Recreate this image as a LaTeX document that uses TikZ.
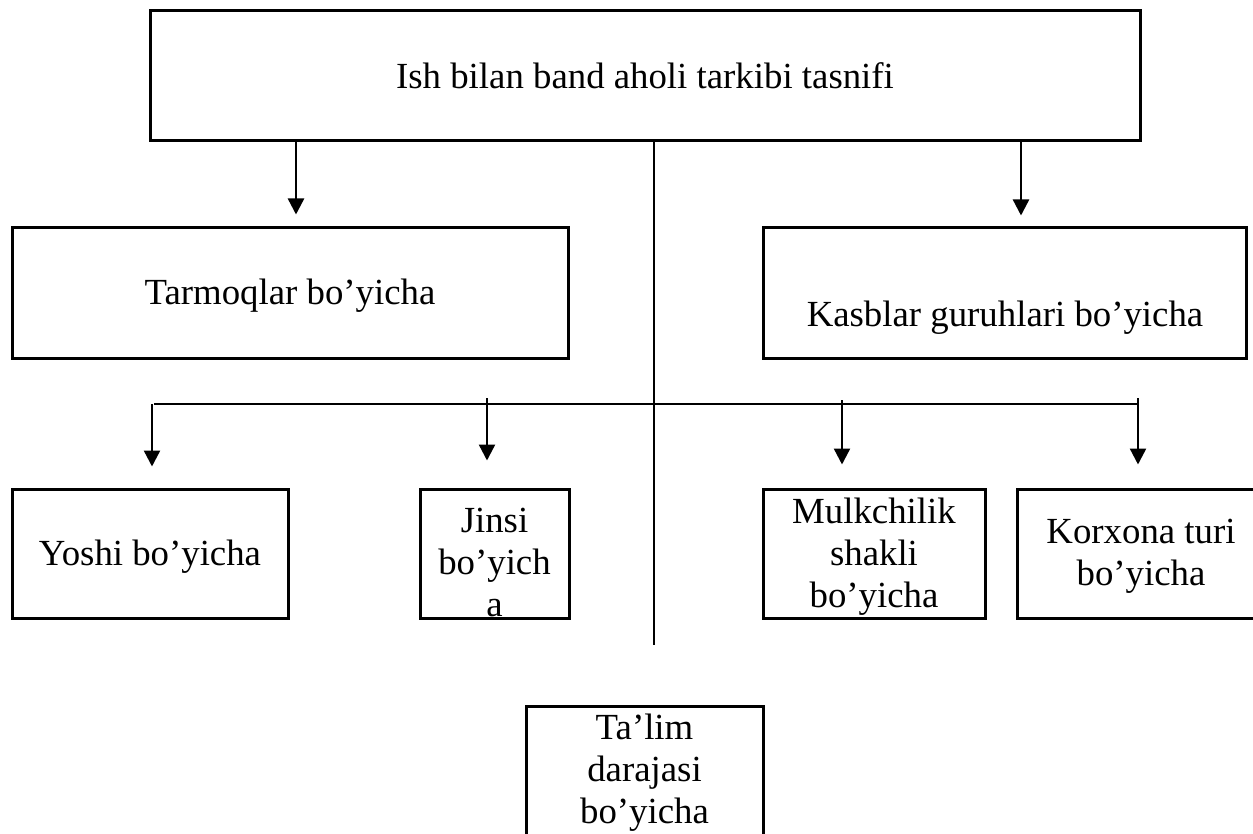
\documentclass[tikz,border=0pt]{standalone}
\usepackage{fontspec}
\setmainfont{Liberation Serif}
\usetikzlibrary{arrows.meta,calc}
\begin{document}
\begin{tikzpicture}[x=0.5pt,y=-0.5pt,
  box/.style={draw, line width=1.5pt, inner sep=0pt, minimum height=64.5pt},
  lbl/.style={font=\fontsize{18.4}{21}\selectfont, align=center, inner sep=0pt, anchor=base},
  conn/.style={line width=1.2pt},
  arr/.style={conn, -{Triangle[length=8pt,width=8pt]}},
  spine/.style={line width=0.9pt}]
\useasboundingbox (0,0) rectangle (1253,834);
\clip (0,0) rectangle (1253,834);
% boxes
\node[box, minimum width=495pt, minimum height=65pt] (top) at (645,76) {};
\node[box, minimum width=278pt, minimum height=65pt] (tar) at (290,293) {};
\node[box, minimum width=241.5pt, minimum height=65pt] (kas) at (1004.5,293) {};
\node[box, minimum width=138pt] (yosh) at (150,553.5) {};
\node[box, minimum width=74.5pt] (jins) at (494.5,553.5) {};
\node[box, minimum width=111pt] (mulk) at (874,553.5) {};
\node[box, minimum width=124pt] (korx) at (1141,553.5) {};
\node[box, minimum width=118.5pt, minimum height=72pt] (talim) at (644.5,778) {};
% texts
\node[lbl] (ttop) at (645,89) {Ish bilan band aholi tarkibi tasnifi};
\node[lbl] (ttar) at (290,305) {Tarmoqlar bo’yicha};
\node[lbl] (tkas) at (1005,327) {Kasblar guruhlari bo’yicha};
\node[lbl] (tyosh) at (150,565) {Yoshi bo’yicha};
\node[lbl] (tjins) at (494.5,616) {Jinsi\\bo’yich\\a};
\node[lbl] (tmulk) at (874,607) {Mulkchilik\\shakli\\bo’yicha};
\node[lbl] (tkorx) at (1141,585) {Korxona turi\\bo’yicha};
\node[lbl] (ttal) at (644.5,823) {Ta’lim\\darajasi\\bo’yicha};
% connectors
\coordinate (aL) at (296,141);
\coordinate (aR) at (1021,141);
\draw[arr] (top.south -| aL) -- ($(aL |- tar.north)+(0,-12)$);
\draw[arr] (top.south -| aR) -- ($(aR |- kas.north)+(0,-11)$);
\coordinate (sp) at (654,645);
\draw[spine] (top.south -| sp) -- (sp);
\coordinate (hl) at (154,404);
\coordinate (hr) at (1138,404);
\draw[conn] (hl) -- (hr);
\coordinate (s1) at (152,404);
\coordinate (s2) at (487,398);
\coordinate (s3) at (842,400);
\coordinate (s4) at (1138,398);
\draw[arr] (s1) -- ($(s1 |- yosh.north)+(0,-21)$);
\draw[arr] (s2) -- ($(s2 |- jins.north)+(0,-27)$);
\draw[arr] (s3) -- ($(s3 |- mulk.north)+(0,-23)$);
\draw[arr] (s4) -- ($(s4 |- korx.north)+(0,-23)$);
\end{tikzpicture}
\end{document}
